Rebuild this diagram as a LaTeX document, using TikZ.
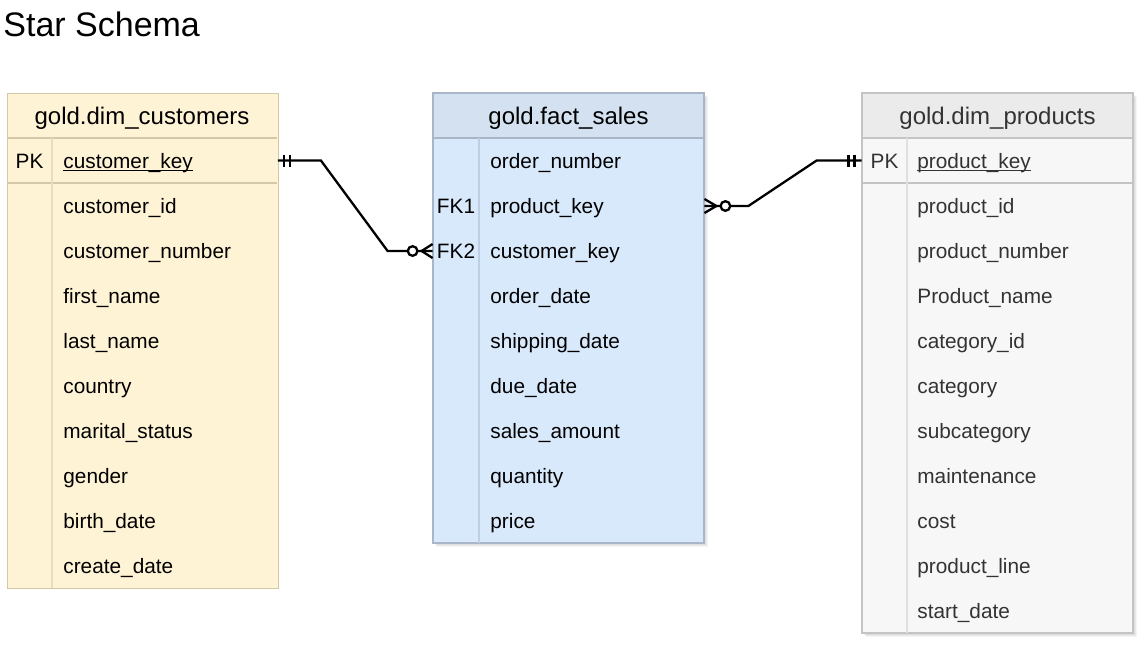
\documentclass[tikz,border=0pt]{standalone}
\usepackage{fontspec}
\setmainfont{Liberation Sans}
\usetikzlibrary{calc}
\definecolor{custfill}{HTML}{FFF3D5}
\definecolor{custline}{HTML}{D3C8A8}
\definecolor{custdiv}{HTML}{E8DDBE}
\definecolor{factfill}{HTML}{D9E9FC}
\definecolor{facthead}{HTML}{D4E1F1}
\definecolor{factline}{HTML}{A8B6C8}
\definecolor{factdiv}{HTML}{BFCEE2}
\definecolor{prodfill}{HTML}{F7F7F7}
\definecolor{prodhead}{HTML}{EBEBEB}
\definecolor{prodline}{HTML}{C4C4C4}
\definecolor{proddiv}{HTML}{E0E0E0}
\definecolor{prodtext}{HTML}{333333}
\tikzset{
  rowtxt/.style={anchor=base west, inner sep=0pt, font=\fontsize{10.4}{12}\selectfont},
  keytxt/.style={anchor=base, inner sep=0pt, font=\fontsize{10.4}{12}\selectfont},
  headtxt/.style={anchor=base, inner sep=0pt, font=\fontsize{12}{14}\selectfont},
  tbl/.style={draw, line width=0.6pt, anchor=north west, inner sep=0pt, minimum width=135.5pt},
  rowbox/.style={inner sep=0pt, minimum height=22.5pt, minimum width=135.5pt},
  rel/.style={line width=1.15pt, black},
  sep/.style={line width=0.6pt},
}
\begin{document}
\begin{tikzpicture}[x=0.5pt,y=-0.5pt]
\useasboundingbox (0,0) rectangle (1143,647);
\node[anchor=base west, inner sep=0pt, font=\fontsize{17}{20}\selectfont] (title) at (3,37) {Star Schema};

% ---------- shadows ----------
\foreach \d/\o in {1/0.05,2/0.05,3/0.05,4/0.04} {
  \fill[black, opacity=\o] (433+\d,93+\d) rectangle (704+\d,543+\d);
  \fill[black, opacity=\o] (862+\d,93+\d) rectangle (1133+\d,633+\d);
}

% ---------- gold.dim_customers ----------
\node[tbl, draw=custline, fill=custfill, minimum height=247.5pt] (cust) at (7,93) {};
\draw[sep, custline] (7,138) -- (277,138);
\draw[sep, custline] (7,183) -- (277,183);
\draw[sep, custdiv] (52,138) -- (52,588);
\node[headtxt] (custh) at (142,124) {gold.dim\_customers};
\node[rowbox] (ckeyrow) at (142,160.5) {};
\node[keytxt] (custpk) at (29.5,168) {PK};
\node[rowtxt] (ckey) at (63,168) {\underline{\smash{customer\_key}}};
\foreach \t [count=\i] in {customer\_id, customer\_number, first\_name, last\_name, country, marital\_status, gender, birth\_date, create\_date}
  \node[rowtxt] (c\i) at (63,{168+45*\i}) {\t};

% ---------- gold.fact_sales ----------
\node[tbl, draw=factline, fill=factfill, minimum height=225pt] (fact) at (433,93) {};
\fill[facthead] (433,93) rectangle (704,138);
\draw[sep, factline] (433,93) rectangle (704,543);
\draw[sep, factline] (433,138) -- (704,138);
\draw[sep, factdiv] (479,138) -- (479,543);
\node[headtxt] (facth) at (568.5,124) {gold.fact\_sales};
\node[rowbox] (fk1row) at (568.5,206) {};
\node[rowbox] (fk2row) at (568.5,251) {};
\node[keytxt] (fk1) at (456,213) {FK1};
\node[keytxt] (fk2) at (456,258) {FK2};
\foreach \t [count=\i from 0] in {order\_number, product\_key, customer\_key, order\_date, shipping\_date, due\_date, sales\_amount, quantity, price}
  \node[rowtxt] (f\i) at (490,{168+45*\i}) {\t};

% ---------- gold.dim_products ----------
\node[tbl, draw=prodline, fill=prodfill, minimum height=270pt] (prod) at (862,93) {};
\fill[prodhead] (862,93) rectangle (1133,138);
\draw[sep, prodline] (862,93) rectangle (1133,633);
\draw[sep, prodline] (862,138) -- (1133,138);
\draw[sep, prodline] (862,183) -- (1133,183);
\draw[sep, proddiv] (907,138) -- (907,633);
\node[headtxt, text=prodtext] (prodh) at (997.5,124) {gold.dim\_products};
\node[rowbox] (ppkrow) at (997.5,160.5) {};
\node[keytxt, text=prodtext] (prodpk) at (884.5,168) {PK};
\node[rowtxt, text=prodtext] (pkey) at (917,168) {\underline{\smash{product\_key}}};
\foreach \t [count=\i] in {product\_id, product\_number, Product\_name, category\_id, category, subcategory, maintenance, cost, product\_line, start\_date}
  \node[rowtxt, text=prodtext] (p\i) at (917,{168+45*\i}) {\t};

% ---------- relation: customers -> fact ----------
\draw[rel] (ckeyrow.east) -- ($(ckeyrow.east)+(43,0)$) -- ($(fk2row.west)+(-45,0)$) -- (fk2row.west);
\draw[rel] ($(ckeyrow.east)+(6,-6)$) -- ($(ckeyrow.east)+(6,6)$);
\draw[rel] ($(ckeyrow.east)+(12,-6)$) -- ($(ckeyrow.east)+(12,6)$);
\draw[rel] ($(fk2row.west)+(0,-7)$) -- ($(fk2row.west)+(-11,0)$) -- ($(fk2row.west)+(0,7)$);
\draw[rel, fill=white] ($(fk2row.west)+(-20,0)$) circle[radius=2.4pt];

% ---------- relation: fact -> products ----------
\draw[rel] (fk1row.east) -- ($(fk1row.east)+(44,0)$) -- ($(ppkrow.west)+(-45,0)$) -- (ppkrow.west);
\draw[rel] ($(ppkrow.west)+(-7,-6)$) -- ($(ppkrow.west)+(-7,6)$);
\draw[rel] ($(ppkrow.west)+(-13,-6)$) -- ($(ppkrow.west)+(-13,6)$);
\draw[rel] ($(fk1row.east)+(0,-7)$) -- ($(fk1row.east)+(12,0)$) -- ($(fk1row.east)+(0,7)$);
\draw[rel, fill=white] ($(fk1row.east)+(21,0)$) circle[radius=2.4pt];
\end{tikzpicture}
\end{document}
